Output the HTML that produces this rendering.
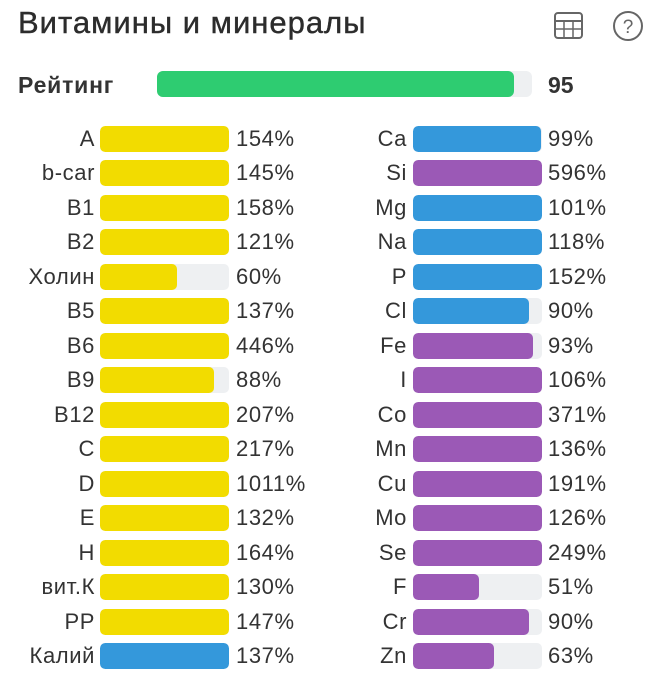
<!DOCTYPE html>
<html><head><meta charset="utf-8"><style>
body{margin:0;width:653px;height:680px;background:#fff;font-family:"Liberation Sans","DejaVu Sans",sans-serif;color:#333;position:relative;overflow:hidden}
.a{position:absolute}
.t{position:absolute;font-size:31px;letter-spacing:1px;left:18px;top:5px;color:#2c2c2c;-webkit-text-stroke:0.4px #2c2c2c}
.lab{position:absolute;text-align:right;font-size:22px;letter-spacing:0.6px;line-height:26px;white-space:nowrap}
.pct{position:absolute;font-size:22px;letter-spacing:0.6px;line-height:26px;white-space:nowrap}
.trk{position:absolute;height:26px;width:129px;background:#eef0f2;border-radius:5px;overflow:hidden}
.fill{height:100%;border-radius:5px}
.y{background:#f2dc00}.b{background:#3498db}.p{background:#9b59b6}
</style></head><body>
<div class="t">Витамины и минералы</div>
<svg class="a" style="left:553px;top:11px" width="32" height="30" viewBox="0 0 32 30"><rect x="2" y="2" width="27" height="25" rx="3" fill="none" stroke="#666" stroke-width="2"/><line x1="2" y1="10" x2="29" y2="10" stroke="#666" stroke-width="2"/><line x1="2" y1="18" x2="29" y2="18" stroke="#666" stroke-width="1.5"/><line x1="11" y1="10" x2="11" y2="27" stroke="#666" stroke-width="1.5"/><line x1="20" y1="10" x2="20" y2="27" stroke="#666" stroke-width="1.5"/></svg>
<svg class="a" style="left:611px;top:9px" width="34" height="34"><circle cx="17" cy="17" r="14" fill="none" stroke="#666" stroke-width="2"/><text x="17" y="24" text-anchor="middle" font-size="19" fill="#666" font-family="Liberation Sans">?</text></svg>
<div class="a" style="left:18px;top:70px;font-size:23px;letter-spacing:0.8px;line-height:30px;font-weight:bold;color:#333">Рейтинг</div>
<div class="a" style="left:157px;top:71px;width:375px;height:26px;background:#eef0f2;border-radius:6px"><div style="width:357px;height:26px;background:#2ecc71;border-radius:6px"></div></div>
<div class="a" style="left:548px;top:70px;font-size:23px;line-height:30px;font-weight:bold">95</div>
<div id="c"></div>
<script>
var L=[["A",154,"y"],["b-car",145,"y"],["B1",158,"y"],["B2",121,"y"],["Холин",60,"y"],["B5",137,"y"],["B6",446,"y"],["B9",88,"y"],["B12",207,"y"],["C",217,"y"],["D",1011,"y"],["E",132,"y"],["H",164,"y"],["вит.К",130,"y"],["PP",147,"y"],["Калий",137,"b"]];
var R=[["Ca",99,"b"],["Si",596,"p"],["Mg",101,"b"],["Na",118,"b"],["P",152,"b"],["Cl",90,"b"],["Fe",93,"p"],["I",106,"p"],["Co",371,"p"],["Mn",136,"p"],["Cu",191,"p"],["Mo",126,"p"],["Se",249,"p"],["F",51,"p"],["Cr",90,"p"],["Zn",63,"p"]];
var h="";
function col(a,lx,bx,px){a.forEach(function(r,i){var y=126+i*34.47;var w=Math.min(r[1],100);
h+='<div class="lab" style="left:'+(lx-100)+'px;width:100px;top:'+y+'px">'+r[0]+'</div>';
h+='<div class="trk" style="left:'+bx+'px;top:'+y+'px"><div class="fill '+r[2]+'" style="width:'+w+'%"></div></div>';
h+='<div class="pct" style="left:'+px+'px;top:'+y+'px">'+r[1]+'%</div>';});}
col(L,95,100,236);col(R,407,413,548);
document.getElementById("c").innerHTML=h;
</script>
</body></html>
